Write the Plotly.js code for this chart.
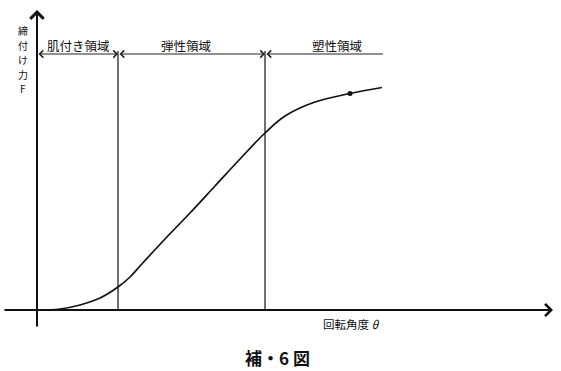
<!DOCTYPE html>
<html>
<head>
<meta charset="utf-8">
<script src="https://cdn.plot.ly/plotly-3.0.1.min.js"></script>
<style>html,body{margin:0;padding:0;background:#fff;}#chart{width:561px;height:371px;}</style>
</head>
<body>
<div id="chart"></div>
<script>
// Curve: rotation angle θ vs clamping force F (arbitrary units, origin at axis crossing)
const theta = [0, 23, 43, 63, 81, 93, 103, 128, 153, 178, 203, 228, 248, 278, 313, 345];
const force = [0, 1, 5, 12, 23, 33, 44, 71, 97, 124, 151, 177, 194, 208, 216.5, 222.5];
const markTheta = [313];
const markForce = [216.5];

// Regions along the top
const regionBounds = [0, 81, 228, 346];
const regionLabels = ['肌付き領域', '弾性領域', '塑性領域'];
const regionLabelTheta = [41, 149, 300];
const regionLineForce = 256;

const yLabelChars = ['締', '付', 'け', '力', 'F'];
const yLabelForce = [280, 265.5, 251, 236.5, 222];
const xLabel = '回転角度 <i>θ</i>';
const caption = '補・6 図';

const FONT = '"Noto Sans CJK JP", "Noto Sans", sans-serif';

const shapes = [];
regionBounds.slice(1, 3).forEach(b => {
  shapes.push({type: 'line', xref: 'x', yref: 'y', x0: b, x1: b, y0: 0, y1: regionLineForce + 3,
    line: {color: '#111', width: 1.2}});
});

const annotations = [];
// axes with arrows
annotations.push({xref: 'x', yref: 'y', axref: 'x', ayref: 'y', x: 516, y: 0, ax: -34, ay: 0,
  text: '', showarrow: true, arrowhead: 4, arrowsize: 1.3, arrowwidth: 1.8, arrowcolor: '#111'});
annotations.push({xref: 'x', yref: 'y', axref: 'x', ayref: 'y', x: 0, y: 300, ax: 0, ay: -18,
  text: '', showarrow: true, arrowhead: 4, arrowsize: 1.3, arrowwidth: 2, arrowcolor: '#111'});
// region span arrows
for (let i = 0; i < 3; i++) {
  annotations.push({xref: 'x', yref: 'y', axref: 'x', ayref: 'y',
    x: regionBounds[i + 1], y: regionLineForce, ax: regionBounds[i], ay: regionLineForce,
    text: '', showarrow: true, arrowside: i < 2 ? 'end+start' : 'start',
    arrowhead: 4, startarrowhead: 4, arrowsize: 1.4, startarrowsize: 1.4, arrowwidth: 1, arrowcolor: '#222'});
  annotations.push({xref: 'x', yref: 'y', x: regionLabelTheta[i], y: regionLineForce + 9,
    text: regionLabels[i], showarrow: false, font: {family: FONT, size: 12.5, color: '#111'}});
}
// y label (vertical stack, one character per line)
yLabelChars.forEach((c, i) => {
  annotations.push({xref: 'x', yref: 'y', x: -14, y: yLabelForce[i], yanchor: 'middle', text: c,
    height: 12, borderpad: 0, showarrow: false, font: {family: FONT, size: 10, color: '#111'}});
});
// x label
annotations.push({xref: 'x', yref: 'y', x: 314, y: -14, text: xLabel, showarrow: false,
  font: {family: FONT, size: 11.5, color: '#111'}});
// caption
annotations.push({xref: 'x', yref: 'y', x: 240, y: -47, text: '<b>' + caption + '</b>', showarrow: false,
  font: {family: FONT, size: 17, color: '#111'}});

const data = [
  {x: theta, y: force, type: 'scatter', mode: 'lines', line: {shape: 'spline', color: '#111', width: 1.7},
   hoverinfo: 'skip'},
  {x: markTheta, y: markForce, type: 'scatter', mode: 'markers', marker: {color: '#111', size: 5},
   hoverinfo: 'skip'}
];

const layout = {
  width: 561, height: 371, autosize: false,
  margin: {l: 0, r: 0, t: 0, b: 0, pad: 0},
  paper_bgcolor: '#fff', plot_bgcolor: '#fff',
  showlegend: false,
  xaxis: {range: [-37, 524], visible: false, fixedrange: true},
  yaxis: {range: [-61, 310], visible: false, fixedrange: true},
  shapes: shapes,
  annotations: annotations
};

Plotly.newPlot('chart', data, layout, {displayModeBar: false, staticPlot: true});
</script>
</body>
</html>
